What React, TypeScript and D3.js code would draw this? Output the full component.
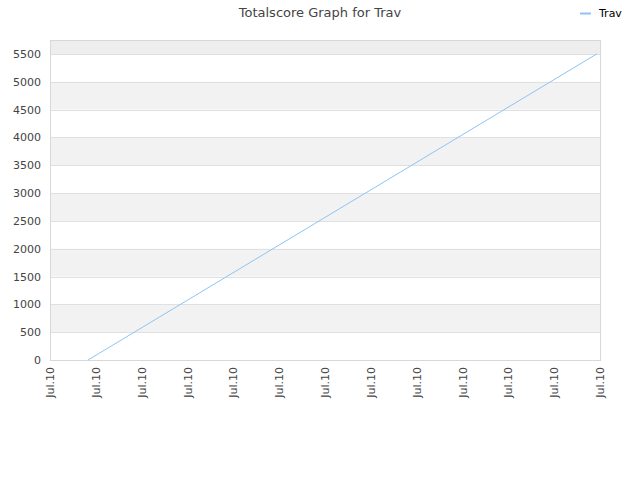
import React from "react";
import * as d3 from "d3";

const tickLabels: string[] = Array.from({ length: 13 }, () => "Jul.10");
const seriesX: number[] = [0.83, 11.93];
const seriesY: number[] = [0, 5500];
const yTicks: number[] = [0, 500, 1000, 1500, 2000, 2500, 3000, 3500, 4000, 4500, 5000, 5500];
const seriesName = "Trav";
const title = "Totalscore Graph for Trav";

export default function App() {
  const W = 640, H = 480;
  const left = 50, right = 600, top = 40, bottom = 360;
  const x = d3.scaleLinear().domain([0, tickLabels.length - 1]).range([left, right]);
  const y = d3.scaleLinear().domain([0, 5750]).range([bottom, top]);
  const line = d3.line<number>().x((_, i) => x(seriesX[i])).y((d) => y(d));
  const bands: [number, number][] = [];
  for (let v = 500; v < 5750; v += 1000) bands.push([v, Math.min(v + 500, 5750)]);
  const font = "DejaVu Sans, Verdana, sans-serif";
  return (
    <svg width={W} height={H} style={{ position: "absolute", left: 0, top: 0, fontFamily: font }}>
      <rect width={W} height={H} fill="#fff" />
      {bands.map(([a, b], i) => (
        <rect key={i} x={left} y={y(b)} width={right - left} height={y(a) - y(b)} fill={b > 5500 ? "#eeeeee" : "#f2f2f2"} />
      ))}
      {yTicks.map((t) => (
        <line key={t} x1={left} x2={right} y1={Math.round(y(t)) + 0.5} y2={Math.round(y(t)) + 0.5} stroke="#e0e0e0" />
      ))}
      <rect x={left + 0.5} y={top + 0.5} width={right - left} height={bottom - top} fill="none" stroke="#d8d8d8" />
      {yTicks.map((t) => (
        <text key={t} x={left - 9} y={y(t) + 4} textAnchor="end" fontSize={11} fill="#444">{t}</text>
      ))}
      {tickLabels.map((l, i) => (
        <text key={i} transform={`translate(${x(i) + 4},${bottom + 7}) rotate(-90)`} textAnchor="end" fontSize={11} fill="#444">{l}</text>
      ))}
      <path d={line(seriesY) || ""} fill="none" stroke="#8fc3f5" strokeWidth={1} />
      <text x={320} y={17} textAnchor="middle" fontSize={13} fill="#444">{title}</text>
      <line x1={580} x2={591} y1={13.5} y2={13.5} stroke="#8fc3f5" strokeWidth={2} />
      <text x={599} y={17} fontSize={11} fill="#000">{seriesName}</text>
    </svg>
  );
}
